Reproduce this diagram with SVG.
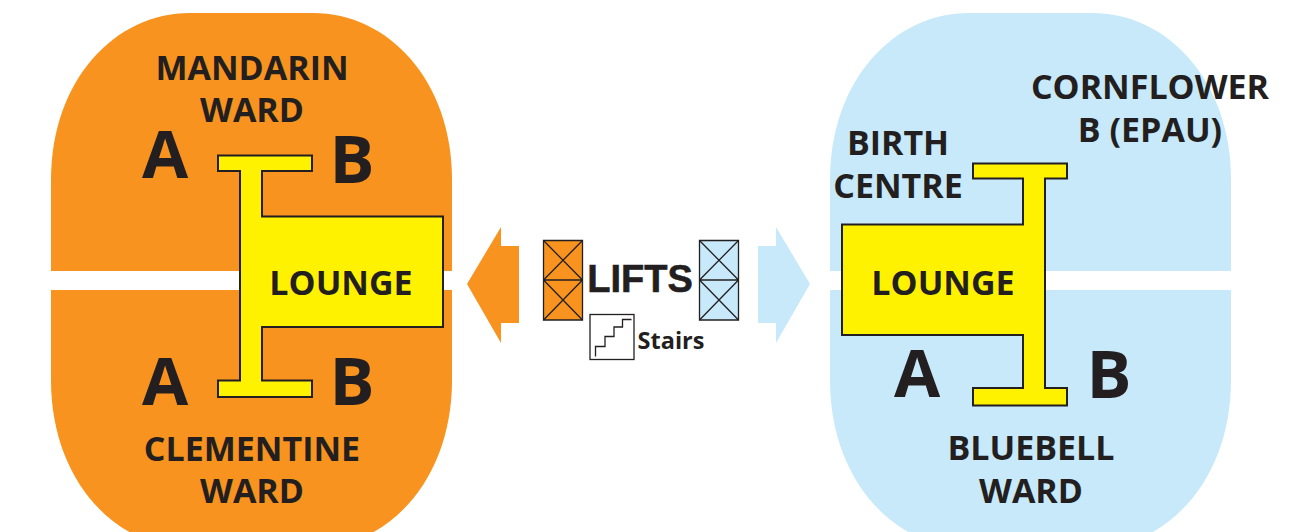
<svg xmlns="http://www.w3.org/2000/svg" width="1313" height="532" viewBox="0 0 1313 532">
<style>
text{font-family:"Open Sans","Noto Sans","Liberation Sans",sans-serif;font-weight:700;fill:#231f20;text-anchor:middle}
.l{font-size:34px}
.h{font-size:67px}
.ya{fill:#fff200;stroke:#231f20;stroke-width:2}
.o{fill:#f7931e}
.b{fill:#c7e9fa}
.w{fill:#fff}
.lift{stroke:#231f20;stroke-width:1.3}
</style>
<rect width="1313" height="532" fill="#fff"/>
<g id="mandarin-clementine">
<path class="o" d="M51 180C51 80 115 13 190 13H313C388 13 452 80 452 180V380C452 480 388 548 313 548H190C115 548 51 480 51 380Z"/>
<rect class="w" x="51" y="271" width="401" height="19"/>
<path class="ya" d="M218 155.500H312V171H262V216.500H443V327H262V380.500H312V397H218V380.500H240V171H218Z"/>
<text class="l" x="252" y="80">MANDARIN</text>
<text class="l" x="252" y="122">WARD</text>
<text class="h" x="165" y="178">A</text>
<text class="h" x="352" y="183">B</text>
<text class="l" x="341" y="295">LOUNGE</text>
<text class="h" x="165" y="405">A</text>
<text class="h" x="352" y="405">B</text>
<text class="l" x="252" y="461">CLEMENTINE</text>
<text class="l" x="252" y="503">WARD</text>
</g>
<g id="bluebell-cornflower">
<path class="b" d="M830 180C830 80 894 13 969 13H1092C1167 13 1231 80 1231 180V380C1231 480 1167 548 1092 548H969C894 548 830 480 830 380Z"/>
<rect class="w" x="830" y="271" width="401" height="19"/>
<path class="ya" d="M973 163.500H1067V178.500H1045V388H1067V405.500H973V388H1023V335H842V224.500H1023V178.500H973Z"/>
<text class="l" x="1150" y="99">CORNFLOWER</text>
<text class="l" x="1150" y="142">B (EPAU)</text>
<text class="l" x="898" y="155">BIRTH</text>
<text class="l" x="898" y="198">CENTRE</text>
<text class="l" x="943" y="295">LOUNGE</text>
<text class="h" x="917" y="397">A</text>
<text class="h" x="1109" y="398">B</text>
<text class="l" x="1031" y="460">BLUEBELL</text>
<text class="l" x="1031" y="503">WARD</text>
</g>
<g id="arrow-left"><path class="o" d="M467 284L501 227V246H519V323H501V343Z"/></g>
<g id="arrow-right"><path class="b" d="M758 246H776V227L810 284L776 343V323H758Z"/></g>
<g id="lifts-left">
<path class="o lift" d="M543.500 240.500H582.500V320H543.500Z"/>
<path class="lift" fill="none" d="M543.500 280H582.500M543.500 240.500L582.500 280M582.500 240.500L543.500 280M543.500 280L582.500 320M582.500 280L543.500 320"/>
</g>
<g id="lifts-right">
<path class="b lift" d="M699.500 240.500H738.500V320H699.500Z"/>
<path class="lift" fill="none" d="M699.500 280H738.500M699.500 240.500L738.500 280M738.500 240.500L699.500 280M699.500 280L738.500 320M738.500 280L699.500 320"/>
</g>
<g id="lifts-label"><text x="640" y="292" style="font-family:'Liberation Sans',Arial,sans-serif;font-size:38px;stroke:#231f20;stroke-width:.6">LIFTS</text></g>
<g id="stairs">
<rect x="590" y="314.500" width="44" height="45" fill="#fff" stroke="#231f20" stroke-width="1.300"/>
<path fill="none" stroke="#231f20" stroke-width="1.300" d="M595.500 356.500V346.500H605V336.500H614V327H622.500V319.500H631.500"/>
<text x="671" y="349" style="font-size:23.500px">Stairs</text>
</g>
</svg>
